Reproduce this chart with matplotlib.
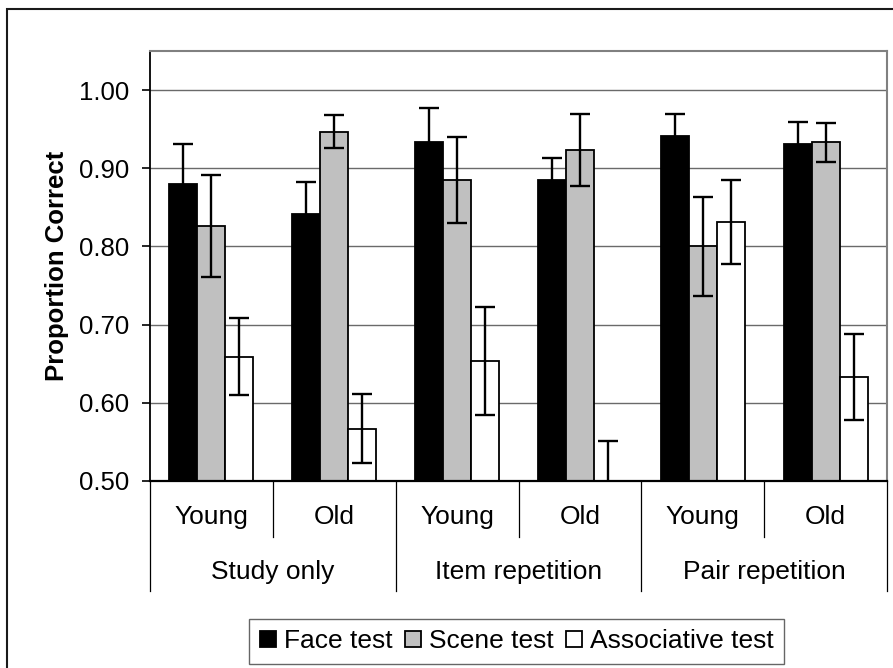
import matplotlib
matplotlib.use("Agg")
import matplotlib.pyplot as plt
import numpy as np
from matplotlib.patches import Rectangle
from matplotlib.lines import Line2D

plt.rcParams['font.family'] = ['Liberation Sans', 'DejaVu Sans']

# Data: proportion correct per condition / age group, with error bar half-widths
conditions = ["Study only", "Item repetition", "Pair repetition"]
age_groups = ["Young", "Old"]
series_names = ["Face test", "Scene test", "Associative test"]

face = [0.880, 0.842, 0.934, 0.885, 0.941, 0.931]
face_err = [0.051, 0.040, 0.043, 0.028, 0.028, 0.028]
scene = [0.826, 0.947, 0.885, 0.923, 0.800, 0.933]
scene_err = [0.065, 0.021, 0.055, 0.046, 0.063, 0.025]
assoc = [0.659, 0.567, 0.654, 0.490, 0.831, 0.633]
assoc_err = [0.049, 0.044, 0.069, 0.061, 0.054, 0.055]

y_ticks = [0.50, 0.60, 0.70, 0.80, 0.90, 1.00]

W, H = 893, 668
fig = plt.figure(figsize=(W / 100, H / 100), dpi=100)
ax = fig.add_axes([150 / W, 1 - 481 / H, (887 - 150) / W, (481 - 51) / H])

n = len(face)
x = np.arange(n) + 0.5
bw = 0.228
colors = ["black", "#c0c0c0", "white"]
vals = [face, scene, assoc]
errs = [face_err, scene_err, assoc_err]
offsets = [-bw, 0, bw]

for v, e, c, off, name in zip(vals, errs, colors, offsets, series_names):
    ax.bar(x + off, v, width=bw, bottom=0, color=c, edgecolor="black",
           linewidth=1.3, label=name, zorder=2)
    ax.errorbar(x + off, v, yerr=e, fmt="none", ecolor="black",
                elinewidth=1.7, capsize=7.5, capthick=1.7, zorder=3)

ax.set_xlim(0, n)
ax.set_ylim(0.50, 1.05)
ax.set_yticks(y_ticks)
ax.set_yticklabels([f"{t:.2f}" for t in y_ticks])
ax.tick_params(axis="y", direction="out", length=6, width=1.2,
               labelsize=18.5, pad=9, colors="black")
ax.set_xticks([])

for yv in y_ticks[1:]:
    ax.axhline(yv, color="#6a6a6a", linewidth=1.0, zorder=1)

ax.spines["left"].set_color("black")
ax.spines["left"].set_linewidth(1.3)
ax.spines["bottom"].set_color("black")
ax.spines["bottom"].set_linewidth(1.6)
ax.spines["top"].set_color("#808080")
ax.spines["top"].set_linewidth(1.5)
ax.spines["right"].set_color("#808080")
ax.spines["right"].set_linewidth(1.5)

ax.set_ylabel("Proportion Correct", fontsize=18.5, fontweight="bold")
ax.yaxis.set_label_coords(-(150 - 69) / (887 - 150), 0.5)

# Two-level category axis below the plot
trans = ax.get_xaxis_transform()
ah = 481 - 51
inner_bottom = -(537 - 481) / ah
outer_bottom = -(591 - 481) / ah
for i in range(n + 1):
    y1 = outer_bottom if i % 2 == 0 else inner_bottom
    ax.add_line(Line2D([i, i], [0, y1], transform=trans, color="black",
                       linewidth=0.9, clip_on=False))
for i in range(n):
    ax.text(x[i], -(517 - 481) / ah, age_groups[i % 2], transform=trans,
            ha="center", va="center", fontsize=19)
for j, cond in enumerate(conditions):
    ax.text(2 * j + 1, -(572 - 481) / ah, cond, transform=trans,
            ha="center", va="center", fontsize=19)

leg = fig.legend(loc="center", bbox_to_anchor=(516.7 / W, 1 - 641.5 / H),
                 ncol=3, fontsize=19, frameon=True, fancybox=False,
                 edgecolor="#404040", handlelength=0.62, handleheight=0.55,
                 handletextpad=0.3, columnspacing=0.45, borderpad=0.4,
                 borderaxespad=0)
leg.get_frame().set_linewidth(1.0)

# Outer chart border
fig.patches.append(Rectangle((7 / W, -0.05), 1.2, 1 - 9 / H + 0.05,
                             transform=fig.transFigure, fill=False,
                             linewidth=1.5, edgecolor="#1a1a1a"))

fig.savefig("out.png", dpi=100)
